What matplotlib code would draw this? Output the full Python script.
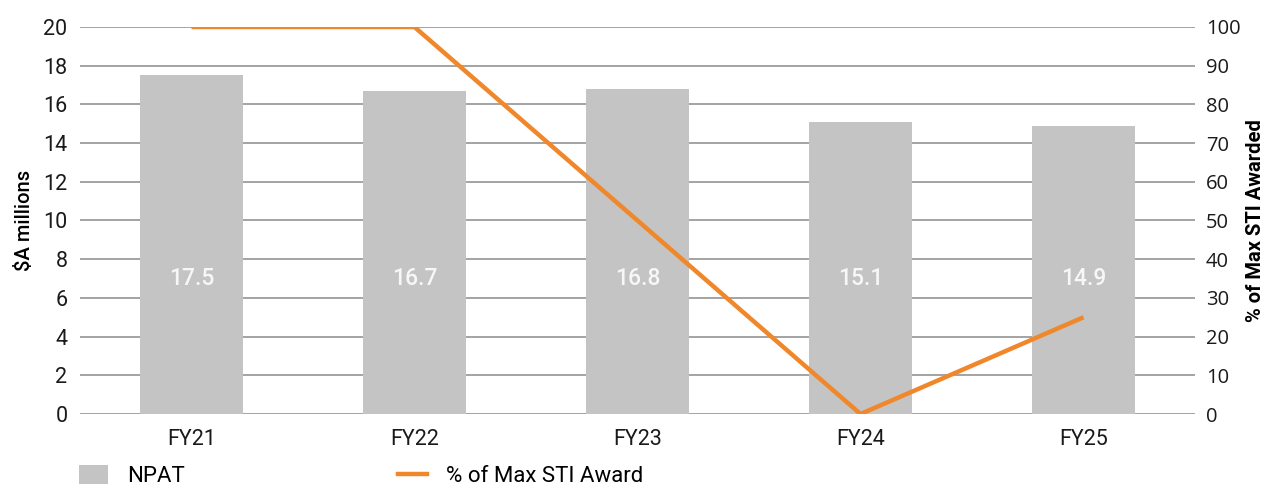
import matplotlib.pyplot as plt
from matplotlib.patches import Patch
from matplotlib.lines import Line2D

years = ["FY21", "FY22", "FY23", "FY24", "FY25"]
npat = [17.5, 16.7, 16.8, 15.1, 14.9]
sti_pct = [100, 100, 50, 0, 25]

bar_color = "#c4c4c4"
line_color = "#f0872a"
grid_color = "#8a8a8a"

plt.rcParams["font.family"] = ["Roboto", "DejaVu Sans"]

fig = plt.figure(figsize=(12.69, 4.86), dpi=100)
ax = fig.add_axes([80 / 1269, 1 - 414 / 486, 1115 / 1269, 387 / 486])
ax2 = ax.twinx()

x = range(len(years))
ax.bar(x, npat, width=0.46, color=bar_color, zorder=2)
for i, v in enumerate(npat):
    ax.text(i, 7, f"{v:.1f}", ha="center", va="center", color="#f7f7f7",
            fontsize=16.5, fontweight="medium", zorder=3)

ax.set_xlim(-0.5, len(years) - 0.5)
ax.set_ylim(0, 20)
ax.set_yticks(range(0, 21, 2))
ax.yaxis.grid(True, color=grid_color, linewidth=1.1, zorder=1)
ax.set_axisbelow(True)
ax.set_xticks(list(x))
ax.set_xticklabels(years)
ax.tick_params(axis="y", length=0, pad=9, labelsize=15.5, colors="#1a1a1a")
ax.tick_params(axis="x", length=0, pad=11, labelsize=15.5, colors="#1a1a1a")
for s in ax.spines.values():
    s.set_visible(False)
ax.set_ylabel("$A millions", fontsize=14.5, fontweight="medium", labelpad=7)

ax2.plot(list(x), sti_pct, color=line_color, linewidth=3.2, solid_capstyle="butt", zorder=4)
ax2.set_ylim(0, 100)
ax2.set_yticks(range(0, 101, 10))
ax2.tick_params(axis="y", length=0, pad=8, labelsize=14.5, colors="#1a1a1a")
for lab in ax2.get_yticklabels():
    lab.set_fontfamily(["Open Sans", "DejaVu Sans"])
for s in ax2.spines.values():
    s.set_visible(False)
ax2.set_ylabel("% of Max STI Awarded", fontsize=14.5, fontweight="bold", labelpad=4)

handles = [Patch(facecolor=bar_color, edgecolor="none"),
           Line2D([0], [0], color=line_color, linewidth=3.2)]
fig.legend(handles, ["NPAT", "% of Max STI Award"], ncol=2, frameon=False,
           loc="center left", bbox_to_anchor=(59 / 1269, 1 - 476 / 486),
           fontsize=16, handlelength=1.3, handleheight=0.9,
           handletextpad=0.85, columnspacing=9.6)

fig.savefig("out.png", dpi=100)
